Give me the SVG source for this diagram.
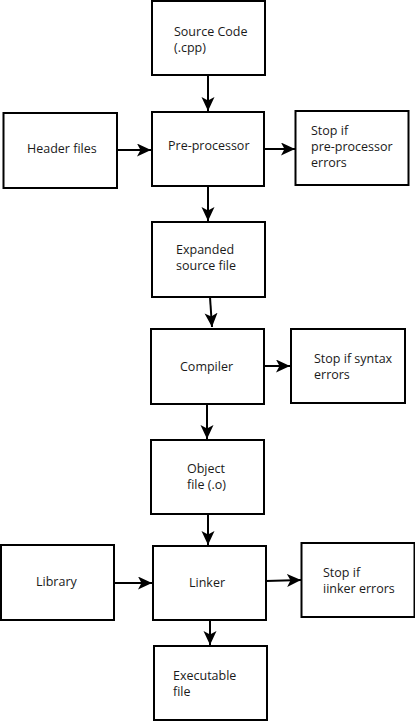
<svg xmlns="http://www.w3.org/2000/svg" width="415" height="721" viewBox="0 0 415 721">
<defs>
<style>
.box{fill:#fff;stroke:#000;stroke-width:2}
.t{font-family:"Open Sans","Noto Sans",sans-serif;font-size:12.5px;fill:#1a1a1a}
.c{fill:none;stroke:#000;stroke-width:2}
</style>
<marker id="ah" markerUnits="userSpaceOnUse" markerWidth="16" markerHeight="14" refX="14" refY="6.5" orient="auto" viewBox="0 0 16 14">
<path d="M0,0 L14,6.5 L0,13 L3.5,6.5 z" fill="#000"/>
</marker>
</defs>
<rect width="415" height="721" fill="#fff"/>
<g id="connectors">
<line class="c" x1="208" y1="75" x2="208" y2="111" marker-end="url(#ah)"/>
<line class="c" x1="117" y1="150" x2="151" y2="150" marker-end="url(#ah)"/>
<line class="c" x1="264" y1="149" x2="295" y2="149" marker-end="url(#ah)"/>
<line class="c" x1="208" y1="186" x2="208" y2="221" marker-end="url(#ah)"/>
<line class="c" x1="210" y1="297" x2="212" y2="327" marker-end="url(#ah)"/>
<line class="c" x1="264" y1="366" x2="290" y2="366" marker-end="url(#ah)"/>
<line class="c" x1="207" y1="404" x2="207" y2="439" marker-end="url(#ah)"/>
<line class="c" x1="208" y1="514" x2="208" y2="545" marker-end="url(#ah)"/>
<line class="c" x1="114" y1="583" x2="152" y2="583" marker-end="url(#ah)"/>
<line class="c" x1="266" y1="581" x2="301" y2="580" marker-end="url(#ah)"/>
<line class="c" x1="210" y1="620" x2="210" y2="645" marker-end="url(#ah)"/>
</g>
<g id="source">
<rect class="box" x="152" y="1" width="113" height="74"/>
<text class="t" x="174" y="36">Source Code</text>
<text class="t" x="174" y="52">(.cpp)</text>
</g>
<g id="header">
<rect class="box" x="3.5" y="113" width="113.5" height="75"/>
<text class="t" x="27" y="153">Header files</text>
</g>
<g id="preprocessor">
<rect class="box" x="152" y="112" width="112" height="74"/>
<text class="t" x="168" y="150">Pre-processor</text>
</g>
<g id="stop-pre">
<rect class="box" x="295.5" y="111" width="113" height="74"/>
<text class="t" x="311" y="135">Stop if</text>
<text class="t" x="311" y="151">pre-processor</text>
<text class="t" x="311" y="167">errors</text>
</g>
<g id="expanded">
<rect class="box" x="152" y="222" width="113" height="75"/>
<text class="t" x="176" y="254">Expanded</text>
<text class="t" x="176" y="270">source file</text>
</g>
<g id="compiler">
<rect class="box" x="151" y="329" width="113" height="75"/>
<text class="t" x="180" y="371">Compiler</text>
</g>
<g id="stop-syntax">
<rect class="box" x="291" y="329" width="114" height="74"/>
<text class="t" x="314" y="363">Stop if syntax</text>
<text class="t" x="314" y="379">errors</text>
</g>
<g id="object">
<rect class="box" x="151" y="440" width="113" height="74"/>
<text class="t" x="187" y="473">Object</text>
<text class="t" x="187" y="489">file (.o)</text>
</g>
<g id="library">
<rect class="box" x="1" y="545" width="113" height="75"/>
<text class="t" x="36" y="586">Library</text>
</g>
<g id="linker">
<rect class="box" x="153" y="546" width="113" height="74"/>
<text class="t" x="189" y="587">Linker</text>
</g>
<g id="stop-linker">
<rect class="box" x="301.5" y="543" width="113" height="74"/>
<text class="t" x="323" y="577">Stop if</text>
<text class="t" x="323" y="593">iinker errors</text>
</g>
<g id="executable">
<rect class="box" x="154" y="646" width="113" height="74"/>
<text class="t" x="173" y="680">Executable</text>
<text class="t" x="173" y="696">file</text>
</g>
</svg>
